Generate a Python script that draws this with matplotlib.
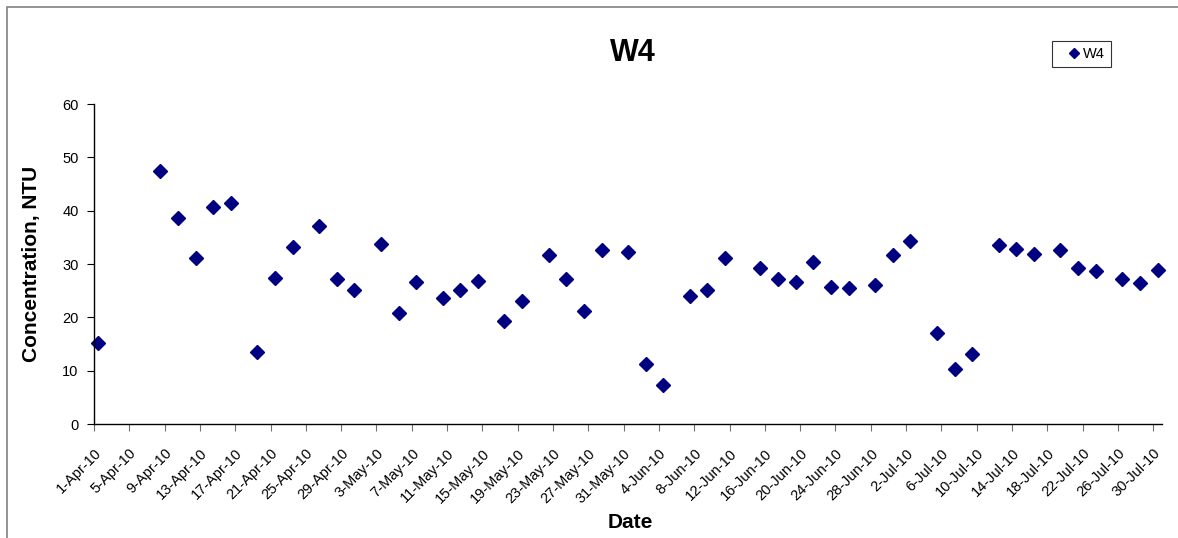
import matplotlib
matplotlib.use("Agg")
import matplotlib.pyplot as plt
from matplotlib.patches import Rectangle
import datetime as dt

plt.rcParams['font.family'] = ['Liberation Sans', 'DejaVu Sans']

# Day offsets from 1-Apr-2010
days = [0, 7, 9, 11, 13, 15, 18, 20, 22, 25, 27, 29, 32, 34, 36, 39, 41, 43,
        46, 48, 51, 53, 55, 57, 60, 62, 64, 67, 69, 71, 75, 77, 79, 81, 83, 85,
        88, 90, 92, 95, 97, 99, 102, 104, 106, 109, 111, 113, 116, 118, 120]
values = [15.1, 47.4, 38.6, 31.2, 40.6, 41.4, 13.5, 27.4, 33.1, 37.2, 27.2, 25.2,
          33.7, 20.8, 26.7, 23.7, 25.2, 26.8, 19.4, 23.1, 31.6, 27.2, 21.1, 32.7,
          32.2, 11.3, 7.3, 24.0, 25.1, 31.1, 29.2, 27.1, 26.7, 30.4, 25.6, 25.5,
          26.1, 31.6, 34.4, 17.0, 10.4, 13.2, 33.6, 32.9, 31.9, 32.7, 29.2, 28.6,
          27.1, 26.4, 28.9]
start = dt.date(2010, 4, 1)
n_days = 121
tick_days = list(range(0, 121, 4))
tick_labels = [f"{(start + dt.timedelta(days=d)).day}-{(start + dt.timedelta(days=d)).strftime('%b')}-10"
               for d in tick_days]
series_name = "W4"

fig = plt.figure(figsize=(11.78, 5.38), dpi=100)
ax = fig.add_axes([94/1178, 1-424/538, (1162-94)/1178, (424-104)/538])

# outer chart border (partially visible)
fig.patches.append(Rectangle((7/1178, -0.1), 1.2, 1 - 7/538 + 0.1, transform=fig.transFigure,
                             fill=False, edgecolor='#808080', linewidth=1.2))

xs = [d + 0.5 for d in days]
ax.plot(xs, values, linestyle='none', marker='D', markersize=6.8,
        color='#000080', markeredgecolor='#000080', label=series_name, clip_on=False)

ax.set_xlim(0, n_days)
ax.set_ylim(0, 60)
ax.set_yticks(range(0, 61, 10))
ax.set_xticks(tick_days)
ax.set_xticklabels(tick_labels, rotation=45, ha='right', va='top', rotation_mode='anchor',
                   fontsize=10.5)
ax.tick_params(axis='y', labelsize=10.5, direction='out', length=5, width=0.8, pad=6)
ax.tick_params(axis='x', direction='out', length=5, width=0.8, color='#707070', pad=11)
for lbl in ax.get_xticklabels():
    lbl.set_x(lbl.get_position()[0])
for s in ['top', 'right']:
    ax.spines[s].set_visible(False)
for s in ['left', 'bottom']:
    ax.spines[s].set_linewidth(1.0)
    ax.spines[s].set_color('black')

fig.text(633/1178, 1-53/538, series_name, ha='center', va='center', fontsize=22, fontweight='bold')
fig.text(32/1178, 1-264/538, 'Concentration, NTU', ha='center', va='center', rotation=90,
         fontsize=15, fontweight='bold')
fig.text(630/1178, 1-522/538, 'Date', ha='center', va='center', fontsize=15, fontweight='bold')

leg = ax.legend(loc='upper left', bbox_to_anchor=(1052/1178, 1-41/538), bbox_transform=fig.transFigure,
                fontsize=10.5, frameon=True, fancybox=False, handlelength=2.2, handletextpad=-0.45,
                borderpad=0.4, markerscale=0.75, borderaxespad=0)
leg.get_frame().set_edgecolor('black')
leg.get_frame().set_linewidth(0.8)

fig.savefig('out.png', dpi=100)
